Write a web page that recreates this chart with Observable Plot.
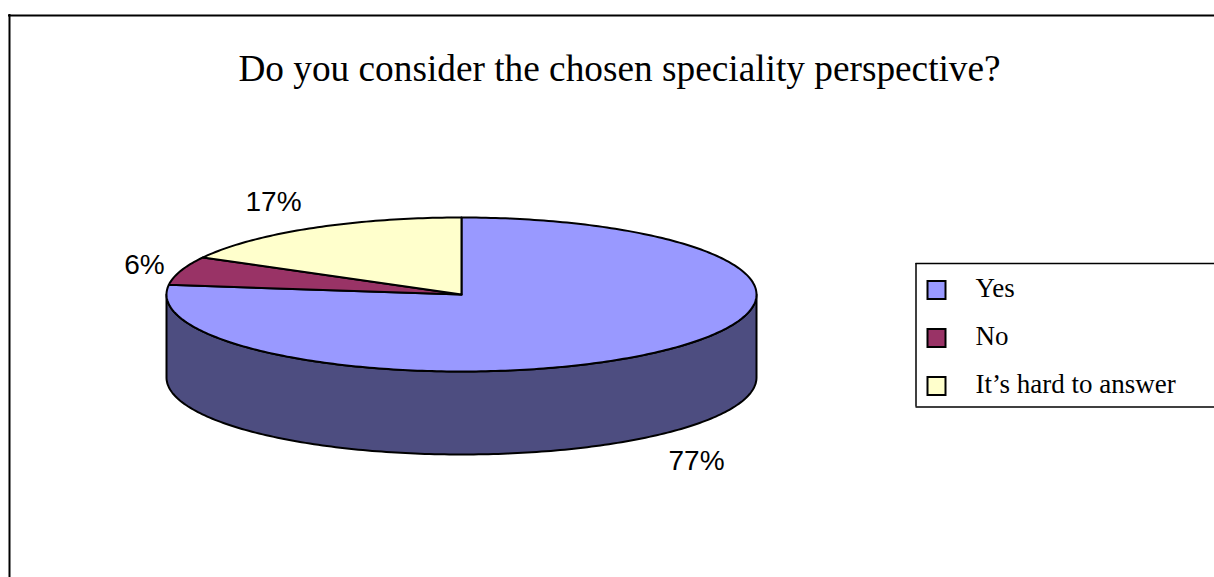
<!DOCTYPE html>
<html>
<head>
<meta charset="utf-8">
<script src="https://cdn.jsdelivr.net/npm/d3@7"></script>
<script src="https://cdn.jsdelivr.net/npm/@observablehq/plot@0.6"></script>
<style>
html,body{margin:0;padding:0;background:#fff;overflow:hidden}
svg{display:block}
</style>
</head>
<body>
<div id="chart"></div>
<script>
const chartTitle = "Do you consider the chosen speciality perspective?";
const categories = ["Yes", "No", "It\u2019s hard to answer"];
const shares = [77, 6, 17];
const shareLabels = ["77%", "6%", "17%"];
const colors = ["#9999FF", "#993366", "#FFFFCC"];
const sideColor = "#4D4D80";

// Layout in page pixels
const W = 1214, H = 577;
const pie = {cx: 461, cy: 294, rx: 295, ry: 77, depth: 83};
const labelPos = [[696, 461], [144, 265], [273, 202]];
const legend = {left: 915.5, top: 263, bottom: 406.5, swatchX: 927.5, swatchSize: 18, textX: 975, rowY: [290, 338, 386]};

const angles = d3.pie().sort(null)(shares);
const toPoint = (a, drop = 0) => ({
  x: pie.cx + pie.rx * Math.sin(a),
  y: pie.cy - pie.ry * Math.cos(a) + drop
});
const arc = (a0, a1, drop = 0) => {
  const n = Math.max(2, Math.ceil(Math.abs(a1 - a0) * 60));
  return d3.range(n + 1).map(i => toPoint(a0 + (a1 - a0) * i / n, drop));
};

// Visible side wall: front half of the ellipse, extruded downward
const side = [
  ...arc(Math.PI / 2, 3 * Math.PI / 2),
  ...arc(3 * Math.PI / 2, Math.PI / 2, pie.depth)
];
side.push(side[0]);

// Top face wedges, one per category
const wedges = angles.flatMap((d, i) => {
  const c = {x: pie.cx, y: pie.cy};
  return [c, ...arc(d.startAngle, d.endAngle), c].map(p => ({...p, name: categories[i]}));
});

const labels = categories.map((name, i) => ({name, text: shareLabels[i], x: labelPos[i][0], y: labelPos[i][1]}));
const legendRows = categories.map((name, i) => ({name, y: legend.rowY[i]}));

const chart = Plot.plot({
  width: W, height: H,
  margin: 0,
  x: {domain: [0, W], range: [0, W], axis: null},
  y: {domain: [0, H], range: [0, H], axis: null},
  color: {domain: categories, range: colors},
  style: {background: "#fff"},
  marks: [
    // outer chart border (runs off the page on the right and bottom)
    Plot.ruleY([15], {x1: 8, x2: W, stroke: "#000", strokeWidth: 2}),
    Plot.ruleX([9], {y1: 14, y2: H, stroke: "#000", strokeWidth: 2}),

    Plot.text([chartTitle], {
      x: 619, y: 69, text: d => d, fontFamily: "Liberation Serif", fontSize: 37.3,
      fill: "#000", textAnchor: "middle", lineAnchor: "middle"
    }),

    // pie body
    Plot.line(side, {x: "x", y: "y", fill: sideColor, stroke: "#000", strokeWidth: 2, strokeLinejoin: "round", curve: "linear"}),
    Plot.line(wedges, {x: "x", y: "y", z: "name", fill: "name", stroke: "#000", strokeWidth: 2, strokeLinejoin: "round", curve: "linear"}),

    Plot.text(labels, {
      x: "x", y: "y", text: "text", fontFamily: "Liberation Sans", fontSize: 28,
      fill: "#000", textAnchor: "middle", lineAnchor: "middle"
    }),

    // legend box (open on the right, cut by the page edge)
    Plot.ruleY([legend.top, legend.bottom], {x1: legend.left, x2: W, stroke: "#000", strokeWidth: 1.5}),
    Plot.ruleX([legend.left], {y1: legend.top, y2: legend.bottom, stroke: "#000", strokeWidth: 1.5}),
    Plot.rect(legendRows, {
      x1: () => legend.swatchX, x2: () => legend.swatchX + legend.swatchSize,
      y1: d => d.y - legend.swatchSize / 2, y2: d => d.y + legend.swatchSize / 2,
      fill: "name", stroke: "#000", strokeWidth: 2
    }),
    Plot.text(legendRows, {
      x: () => legend.textX, y: d => d.y - 2, text: "name",
      fontFamily: "Liberation Serif", fontSize: 27, fill: "#000",
      textAnchor: "start", lineAnchor: "middle"
    })
  ]
});
document.getElementById("chart").append(chart);
</script>
</body>
</html>
